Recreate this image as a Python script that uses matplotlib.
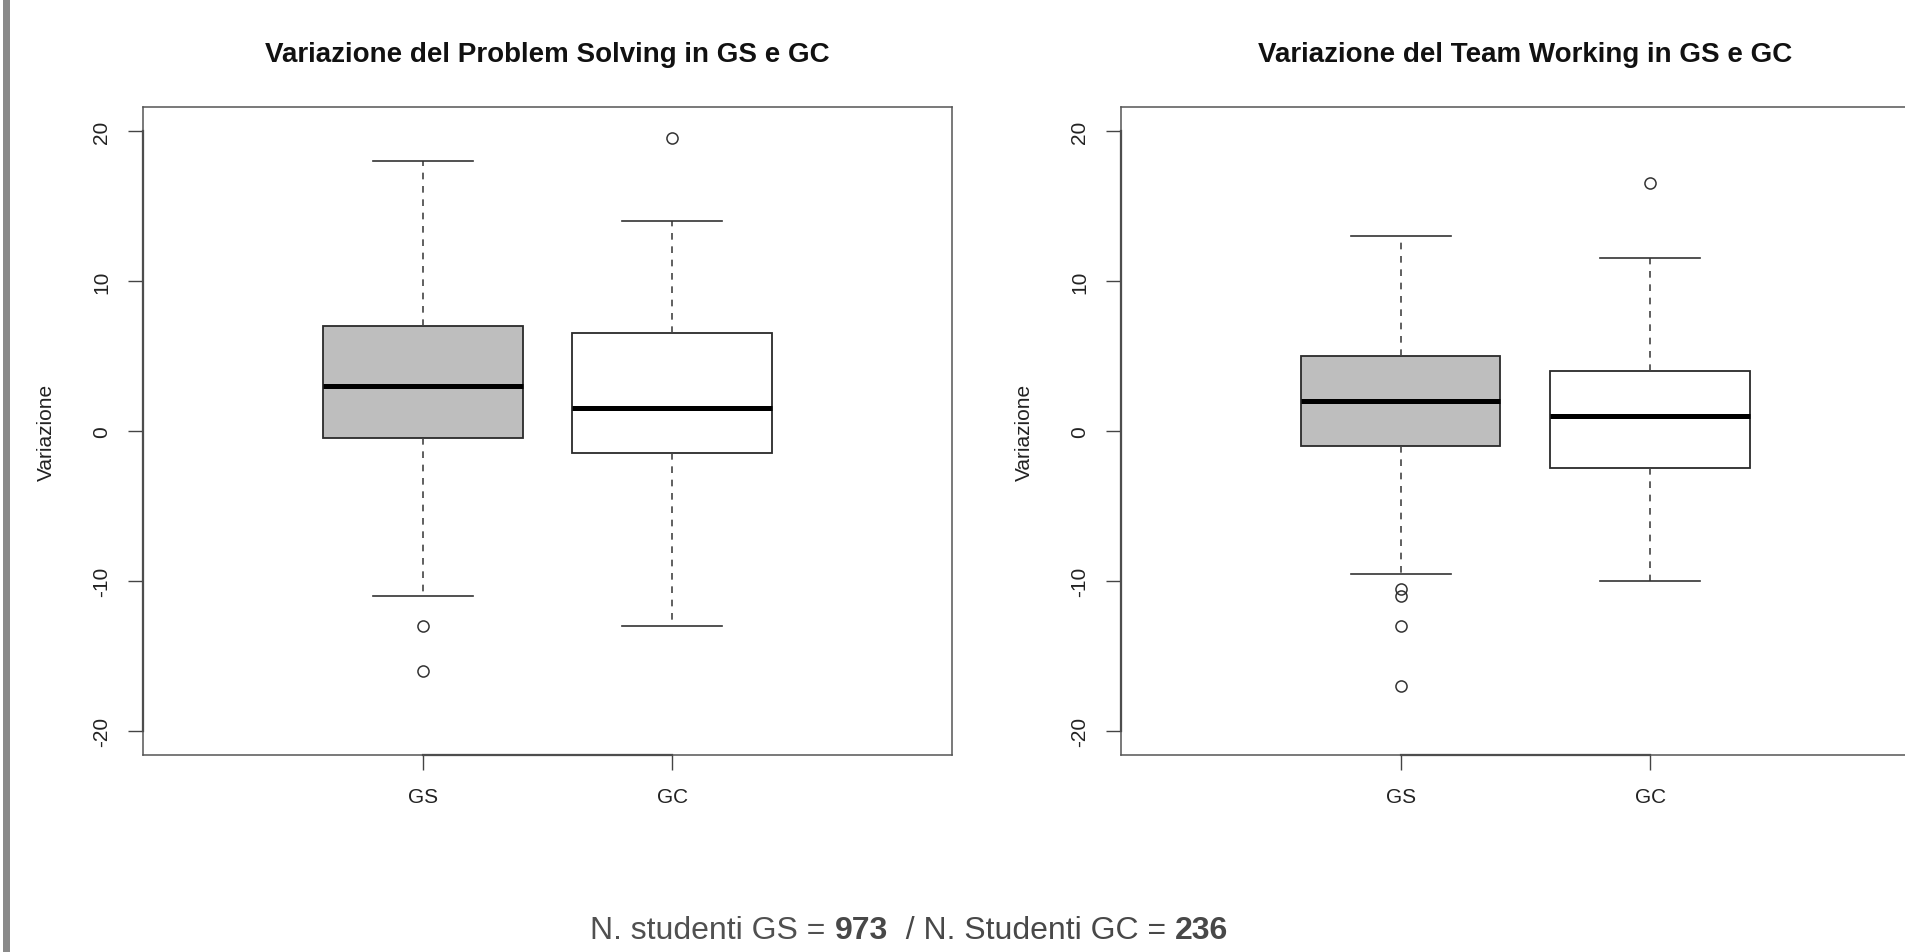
import matplotlib
matplotlib.use("Agg")
import matplotlib.pyplot as plt
from matplotlib.patches import Rectangle
from matplotlib.transforms import blended_transform_factory

plt.rcParams['font.family'] = ['Liberation Sans', 'DejaVu Sans']

# dati
categorie = ['GS', 'GC']
colori_box = ['#bebebe', 'white']
yticks = [-20, -10, 0, 10, 20]

# Problem Solving
ps_whislo = [-11, -13]
ps_q1 = [-0.5, -1.5]
ps_med = [3, 1.5]
ps_q3 = [7, 6.5]
ps_whishi = [18, 14]
ps_fliers = [[-13, -16], [19.5]]

# Team Working
tw_whislo = [-9.5, -10]
tw_q1 = [-1, -2.5]
tw_med = [2, 1]
tw_q3 = [5, 4]
tw_whishi = [13, 11.5]
tw_fliers = [[-10.5, -11, -13, -17], [16.5]]

n_gs = 973
n_gc = 236


def pannello(ax, titolo, whislo, q1, med, q3, whishi, fliers):
    pos = list(range(1, len(categorie) + 1))
    stats = []
    for i, nome in enumerate(categorie):
        stats.append(dict(label=nome, whislo=whislo[i], q1=q1[i], med=med[i],
                          q3=q3[i], whishi=whishi[i], fliers=fliers[i]))
    bp = ax.bxp(stats, positions=pos, widths=0.8, capwidths=0.4,
                patch_artist=True, showfliers=True,
                boxprops=dict(edgecolor='#2a2a2a', linewidth=1.3),
                whiskerprops=dict(color='#444444', linewidth=1.2, linestyle=(0, (4, 4))),
                capprops=dict(color='#333333', linewidth=1.2),
                medianprops=dict(color='black', linewidth=3.6),
                flierprops=dict(marker='o', markerfacecolor='none', markeredgecolor='#333333',
                                markersize=8, markeredgewidth=1.1))
    for patch, col in zip(bp['boxes'], colori_box):
        patch.set_facecolor(col)

    ax.set_xlim(-0.12, 3.12)
    ax.set_ylim(-21.6, 21.6)
    ax.set_xticks(pos, categorie)
    ax.set_yticks(yticks, [str(t) for t in yticks])
    ax.tick_params(length=11, width=1.0, color='#444444', labelsize=15,
                   labelcolor='#222222', pad=12)
    ax.tick_params(axis='y', labelrotation=90)
    for lbl in ax.get_yticklabels():
        lbl.set_va('center')
    for sp in ax.spines.values():
        sp.set_color('#555555')
        sp.set_linewidth(1.1)

    # linee degli assi come in R (solo tra il primo e l'ultimo tick)
    tx = blended_transform_factory(ax.transData, ax.transAxes)
    ax.plot([pos[0], pos[-1]], [0, 0], transform=tx, color='#333333', lw=1.6, clip_on=False)
    ty = blended_transform_factory(ax.transAxes, ax.transData)
    ax.plot([0, 0], [yticks[0], yticks[-1]], transform=ty, color='#333333', lw=1.6, clip_on=False)

    ax.set_title(titolo, fontsize=20, fontweight='bold', pad=33, color='#111111')
    ax.set_ylabel('Variazione', fontsize=15, color='#222222')
    ax.yaxis.set_label_coords(-0.108, 0.5)


fig = plt.figure(figsize=(19.06, 9.53), dpi=100)

ax1 = fig.add_axes([0.0750, 0.2067, 0.4245, 0.6800])
ax2 = fig.add_axes([0.5881, 0.2067, 0.4245, 0.6800])

pannello(ax1, 'Variazione del Problem Solving in GS e GC',
         ps_whislo, ps_q1, ps_med, ps_q3, ps_whishi, ps_fliers)
pannello(ax2, 'Variazione del Team Working in GS e GC',
         tw_whislo, tw_q1, tw_med, tw_q3, tw_whishi, tw_fliers)

# barra grigia sul bordo sinistro
fig.add_artist(Rectangle((3 / 1906, 0), 7 / 1906, 1, transform=fig.transFigure,
                         facecolor='#8a8a8a', edgecolor='none'))

# testo in basso con i numeri in grassetto
pezzi = [('N. studenti GS = ', 'normal'), (str(n_gs), 'bold'),
         ('  / N. Studenti GC = ', 'normal'), (str(n_gc), 'bold')]
ax_txt = fig.add_axes([0, 0, 1, 1], facecolor='none')
ax_txt.set_axis_off()
testi = []
prec = None
for s, w in pezzi:
    if prec is None:
        t = ax_txt.text(0, 0.015, s, fontsize=23, fontweight=w, color='#505050',
                        ha='left', va='baseline', transform=ax_txt.transAxes)
    else:
        t = ax_txt.annotate(s, xy=(1, 0), xycoords=prec, fontsize=23, fontweight=w,
                            color='#484848', ha='left', va='bottom')
    testi.append(t)
    prec = t

fig.canvas.draw()
r = fig.canvas.get_renderer()
x0 = testi[0].get_window_extent(r).x0
x1 = testi[-1].get_window_extent(r).x1
larg = (x1 - x0) / fig.bbox.width
testi[0].set_x(0.477 - larg / 2)

fig.savefig('out.png', dpi=100)
